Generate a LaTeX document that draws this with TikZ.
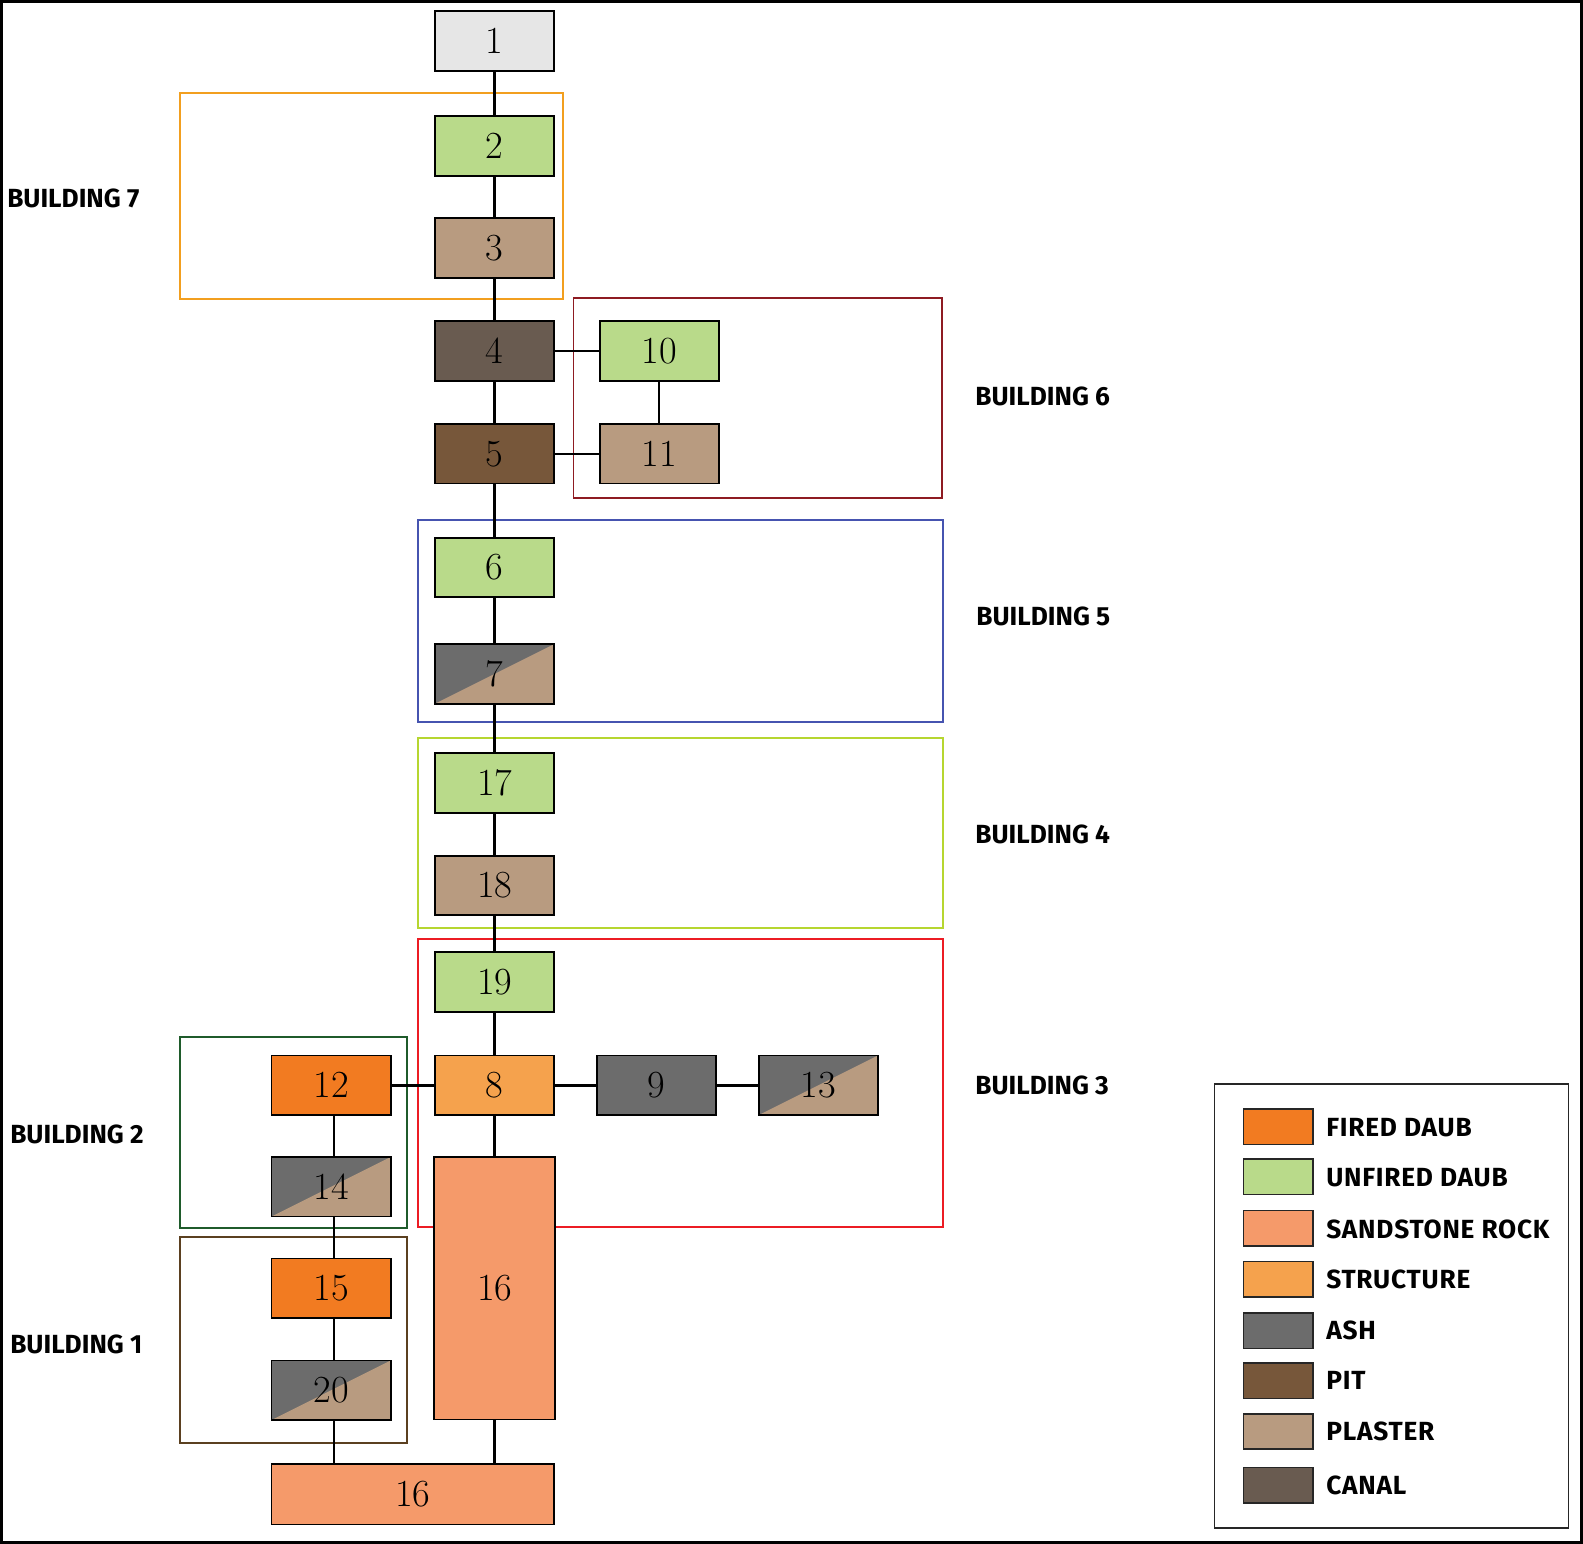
\documentclass[tikz,border=0pt]{standalone}
\usepackage{fontspec}
\setsansfont{Fira Sans}
\definecolor{cgrey}{HTML}{E6E6E6}
\definecolor{cunfired}{HTML}{B9DA8A}
\definecolor{cplaster}{HTML}{B89B80}
\definecolor{ccanal}{HTML}{695B50}
\definecolor{cpit}{HTML}{77573A}
\definecolor{cash}{HTML}{6C6C6C}
\definecolor{cstruct}{HTML}{F5A24D}
\definecolor{cfired}{HTML}{F27B21}
\definecolor{csand}{HTML}{F59A6A}
\definecolor{bseven}{HTML}{F29F1F}
\definecolor{bsix}{HTML}{8E1B22}
\definecolor{bfive}{HTML}{4654B0}
\definecolor{bfour}{HTML}{B6D630}
\definecolor{bthree}{HTML}{EC1C24}
\definecolor{btwo}{HTML}{1F5B2B}
\definecolor{bone}{HTML}{5B4020}
\newcommand\numfont{\fontsize{38}{40}\selectfont}
\newcommand\lblfont{\sffamily\bfseries\fontsize{26}{28}\selectfont}
\newcommand\legfont{\sffamily\bfseries\fontsize{26}{28}\selectfont\addfontfeature{LetterSpace=3}}
\begin{document}
\begin{tikzpicture}[x=1pt,y=-1pt,
  box/.style={draw=black, line width=1.8, inner sep=0, minimum width=118, minimum height=59, font=\numfont},
  splitbox/.style={box, fill=cash, path picture={\fill[cplaster] (path picture bounding box.south west) -- (path picture bounding box.south east) -- (path picture bounding box.north east) -- cycle;}},
  conn/.style={line width=2.4, black},
  bld/.style={line width=1.8},
  lbl/.style={anchor=west, font=\lblfont, inner sep=0},
  swatch/.style={draw=black!85, line width=1.5, inner sep=0, minimum width=69, minimum height=35},
  legtxt/.style={anchor=west, font=\legfont, inner sep=0}]
\useasboundingbox (0,0) rectangle (1568,1529);
\fill[white] (0,0) rectangle (1568,1529);
\draw[line width=3] (1.5,1.5) rectangle (1566.5,1527.5);

% building frames
\draw[bld, bseven] (178,92) rectangle (558,296);
\draw[bld, bsix] (568,295) rectangle (933,493);
\draw[bld, bfive] (414,515) rectangle (934,715);
\draw[bld, bfour] (414,731) rectangle (934,919);
\draw[bld, bthree] (414,930) rectangle (934,1215);
\draw[bld, btwo] (178,1027) rectangle (403,1216);
\draw[bld, bone] (178,1225) rectangle (403,1429);

% building labels
\node[lbl] (l7) at (7,197) {BUILDING 7};
\node[lbl] (l6) at (966,393) {BUILDING 6};
\node[lbl] (l5) at (967,611) {BUILDING 5};
\node[lbl] (l4) at (966,826) {BUILDING 4};
\node[lbl] (l3) at (966,1075) {BUILDING 3};
\node[lbl] (l2) at (10,1124) {BUILDING 2};
\node[lbl] (l1) at (10,1332) {BUILDING 1};

% nodes
\node[box, fill=cgrey] (n1) at (490,40.5) {1};
\node[box, fill=cunfired] (n2) at (490,144.5) {2};
\node[box, fill=cplaster] (n3) at (490,245.5) {3};
\node[box, fill=ccanal] (n4) at (490,347.5) {4};
\node[box, fill=cpit] (n5) at (490,449.5) {5};
\node[box, fill=cunfired] (n10) at (653,347.5) {10};
\node[box, fill=cplaster] (n11) at (653,449.5) {11};
\node[box, fill=cunfired] (n6) at (490,562) {6};
\node[splitbox] (n7) at (490,667.5) {7};
\node[box, fill=cunfired] (n17) at (490,775.5) {17};
\node[box, fill=cplaster] (n18) at (490,877) {18};
\node[box, fill=cunfired] (n19) at (490,972.5) {19};
\node[box, fill=cstruct] (n8) at (490,1075) {8};
\node[box, fill=cash] (n9) at (650,1075) {9};
\node[splitbox] (n13) at (810.5,1075) {13};
\node[box, fill=cfired] (n12) at (328,1075) {12};
\node[splitbox] (n14) at (328,1175.5) {14};
\node[box, fill=csand, minimum width=120, minimum height=260] (n16t) at (490,1276) {16};
\node[box, fill=cfired] (n15) at (328,1276) {15};
\node[splitbox] (n20) at (328,1377) {20};
\node[box, fill=csand, minimum width=280, minimum height=60] (n16b) at (409,1480) {16};

% connectors
\foreach \a/\b in {n1/n2,n2/n3,n3/n4,n4/n5,n5/n6,n6/n7,n7/n17,n17/n18,n18/n19,n19/n8,n8/n16t,n10/n11}
  \draw[conn] (\a.south) -- (\b.north);
\foreach \a/\b in {n12/n14,n14/n15,n15/n20}
  \draw[conn] ([xshift=3]\a.south) -- ([xshift=3]\b.north);
\foreach \a/\b in {n4/n10,n5/n11,n12/n8,n8/n9,n9/n13}
  \draw[conn] (\a.east) -- (\b.west);
\draw[conn] (n16t.south) -- (n16t.south |- n16b.north);
\draw[conn] ([xshift=3]n20.south) -- ([xshift=3]n20.south |- n16b.north);

% legend
\draw[line width=1.5, black!85] (1203,1073.5) rectangle (1553.5,1513.5);
\node[swatch, fill=cfired] (s1) at (1266,1116) {};
\node[swatch, fill=cunfired] (s2) at (1266,1165.5) {};
\node[swatch, fill=csand] (s3) at (1266,1216.5) {};
\node[swatch, fill=cstruct] (s4) at (1266,1267) {};
\node[swatch, fill=cash] (s5) at (1266,1318) {};
\node[swatch, fill=cpit] (s6) at (1266,1367.5) {};
\node[swatch, fill=cplaster] (s7) at (1266,1418) {};
\node[swatch, fill=ccanal] (s8) at (1266,1471) {};
\node[legtxt] (t1) at (1313.5,1117) {FIRED DAUB};
\node[legtxt] (t2) at (1313.5,1166.5) {UNFIRED DAUB};
\node[legtxt] (t3) at (1313.5,1217.5) {SANDSTONE ROCK};
\node[legtxt] (t4) at (1313.5,1267) {STRUCTURE};
\node[legtxt] (t5) at (1313.5,1318) {ASH};
\node[legtxt] (t6) at (1313.5,1367.5) {PIT};
\node[legtxt] (t7) at (1313.5,1418) {PLASTER};
\node[legtxt] (t8) at (1313.5,1471) {CANAL};
\end{tikzpicture}
\end{document}
